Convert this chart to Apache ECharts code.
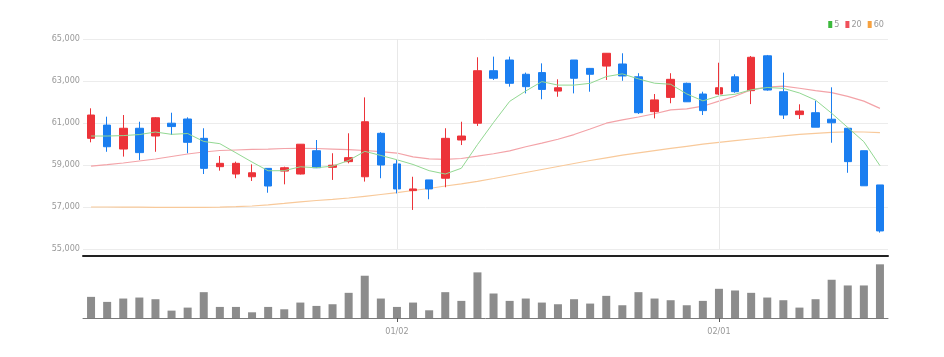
<!DOCTYPE html>
<html>
<head>
<meta charset="utf-8">
<style>
  html, body { margin: 0; padding: 0; background: #ffffff; }
  #chart { width: 944px; height: 357px; }
</style>
<script src="https://cdn.jsdelivr.net/npm/echarts@6/dist/echarts.min.js"></script>
</head>
<body>
<div id="chart"></div>
<script>
// ---- data ----
const dates = [
  '12/05','12/06','12/07','12/08','12/09','12/12','12/13','12/14','12/15','12/16',
  '12/19','12/20','12/21','12/22','12/23','12/26','12/27','12/28','12/29',
  '01/02','01/03','01/04','01/05','01/06','01/09','01/10','01/11','01/12','01/13',
  '01/16','01/17','01/18','01/19','01/20','01/25','01/26','01/27','01/30','01/31',
  '02/01','02/02','02/03','02/06','02/07','02/08','02/09','02/10','02/13','02/14','02/15'
];
const shownDates = ['01/02', '02/01'];

const opens  = [60270,60900,59760,60750,60380,60990,61190,60270,58920,58570,
                58440,58840,58710,58570,59680,58890,59160,58440,60510,59050,
                57780,58290,58370,60190,60990,63490,64000,63320,63400,62520,
                64000,63600,63710,63810,63200,61540,62220,62890,62380,62380,
                63200,62540,64200,62490,61400,61490,61180,60750,59680,58050];
const closes = [61380,59870,60750,59590,61250,60830,60080,58840,59080,59080,
                58630,58000,58870,59990,58870,58990,59350,61060,59000,57860,
                57860,57860,60270,60380,63490,63130,62890,62730,62600,62680,
                63130,63320,64320,63240,61490,62100,63080,62010,61590,62680,
                62490,64130,62570,61380,61570,60800,61010,59160,58010,55860];
const lows   = [60080,59630,59400,59240,59630,60430,59560,58570,58730,58370,
                58240,57680,58080,58550,58870,58290,59080,58210,58370,57650,
                56860,57370,57940,59950,60860,63050,62730,62410,62130,62250,
                62410,62490,63050,63010,61430,61220,61940,62000,61380,62330,
                62440,61900,62540,61190,61190,60800,60060,58630,58010,55780];
const highs  = [61700,61300,61380,61060,61280,61490,61270,60750,59430,59160,
                59030,58840,58920,60000,60190,59560,60510,62220,60560,59240,
                58440,58290,60750,61060,64130,64160,64160,63400,63840,63080,
                64000,63620,64330,64320,63370,62380,63370,62920,62490,63870,
                63320,64190,64240,63400,61890,62060,62700,60750,59680,58050];

const volumes = [315000,240000,290000,305000,280000,110000,155000,385000,165000,165000,
                 85000,165000,130000,230000,180000,205000,375000,630000,290000,165000,
                 230000,115000,385000,255000,680000,365000,255000,290000,230000,205000,
                 280000,215000,330000,190000,385000,290000,265000,190000,255000,435000,
                 410000,375000,305000,265000,155000,280000,570000,485000,485000,800000];

const ma5  = [60380,60380,60400,60450,60570,60460,60500,60120,60015,59580,
              59140,58725,58730,58915,58870,58945,59215,59650,59455,59250,
              59025,58730,58570,58845,59970,61025,62030,62525,62970,62805,
              62805,62890,63210,63340,63100,62895,62845,62385,62055,62290,
              62370,62580,62690,62650,62430,62090,61465,60785,60110,58970];
const ma20 = [58950,59020,59095,59190,59285,59405,59525,59620,59690,59715,
              59740,59760,59785,59795,59785,59760,59730,59690,59640,59570,
              59390,59290,59270,59310,59420,59535,59675,59870,60045,60225,
              60450,60715,60990,61150,61285,61440,61625,61670,61800,62045,
              62275,62590,62705,62755,62655,62540,62445,62270,62040,61695];
const ma60 = [57000,57000,56995,56990,56986,56981,56981,56986,56995,57014,
              57048,57105,57171,57248,57309,57367,57429,57510,57595,57681,
              57786,57881,58000,58105,58224,58357,58500,58643,58786,58929,
              59071,59214,59343,59467,59581,59686,59790,59890,59990,60081,
              60162,60238,60310,60391,60457,60510,60552,60576,60571,60543];

const priceMin = 55000, priceMax = 65000, priceStep = 2000;
const volumeMax = 924000;

// ---- chart ----
const FONT = "'DejaVu Sans Condensed', sans-serif";
const UP = '#ec3339', DOWN = '#1a7ef0';
const candleData = dates.map((d, i) => [opens[i], closes[i], lows[i], highs[i]]);
const showFn = (idx, val) => shownDates.indexOf(val) >= 0;

const chart = echarts.init(document.getElementById('chart'), null, { renderer: 'canvas' });
chart.setOption({
  animation: false,
  backgroundColor: '#ffffff',
  legend: {
    data: ['5', '20', '60'],
    right: 60,
    top: 20,
    icon: 'rect',
    itemWidth: 4,
    itemHeight: 7,
    itemGap: 6,
    padding: 0,
    textStyle: { color: '#999', fontSize: 9, fontFamily: FONT, padding: [0, 0, 0, -3] }
  },
  grid: [
    { left: 83, width: 805, top: 39, height: 210 },
    { left: 83, width: 805, top: 256, height: 62 }
  ],
  xAxis: [
    { type: 'category', gridIndex: 0, data: dates, boundaryGap: true,
      axisLine: { show: false }, axisTick: { show: false }, axisLabel: { show: false },
      splitLine: { show: false } },
    { type: 'category', gridIndex: 1, data: dates, boundaryGap: true, position: 'bottom',
      axisLine: { lineStyle: { color: '#7a7a7a', width: 1 } },
      axisTick: { show: true, alignWithLabel: true, interval: showFn, length: 4, lineStyle: { color: '#555' } },
      axisLabel: { interval: showFn, color: '#999', fontSize: 9, fontFamily: FONT, margin: 9 },
      splitLine: { show: false } },
    { type: 'category', gridIndex: 1, data: dates, boundaryGap: true, position: 'top',
      axisLine: { lineStyle: { color: '#222', width: 2 } },
      axisTick: { show: false }, axisLabel: { show: false }, splitLine: { show: false } }
  ],
  yAxis: [
    { type: 'value', gridIndex: 0, min: priceMin, max: priceMax, interval: priceStep,
      axisLine: { show: false }, axisTick: { show: false },
      axisLabel: { color: '#999', fontSize: 9, fontFamily: FONT, margin: 3,
        formatter: v => v.toLocaleString('en-US') },
      splitLine: { lineStyle: { color: '#ececec', width: 1 } } },
    { type: 'value', gridIndex: 1, min: 0, max: volumeMax,
      axisLine: { show: false }, axisTick: { show: false }, axisLabel: { show: false },
      splitLine: { show: false } }
  ],
  series: [
    { name: 'price', type: 'candlestick', xAxisIndex: 0, yAxisIndex: 0, data: candleData,
      barWidth: 8,
      itemStyle: { color: UP, color0: DOWN, borderColor: UP, borderColor0: DOWN, borderWidth: 1 },
      markLine: { silent: true, symbol: 'none', label: { show: false },
        lineStyle: { color: '#e8e8e8', type: 'solid', width: 1 },
        data: shownDates.map(d => ({ xAxis: d })) },
      z: 3 },
    { name: '5', type: 'line', xAxisIndex: 0, yAxisIndex: 0, data: ma5, symbol: 'none',
      color: '#3cb93c', lineStyle: { color: '#92d892', width: 1 }, z: 4 },
    { name: '20', type: 'line', xAxisIndex: 0, yAxisIndex: 0, data: ma20, symbol: 'none',
      color: '#f0505a', lineStyle: { color: '#f3a3a8', width: 1.2 }, z: 2 },
    { name: '60', type: 'line', xAxisIndex: 0, yAxisIndex: 0, data: ma60, symbol: 'none',
      color: '#f6a13f', lineStyle: { color: '#f8c99a', width: 1.2 }, z: 2 },
    { name: 'volume', type: 'bar', xAxisIndex: 1, yAxisIndex: 1, data: volumes,
      barWidth: 8, itemStyle: { color: '#8c8c8c' } }
  ]
});
</script>
</body>
</html>
